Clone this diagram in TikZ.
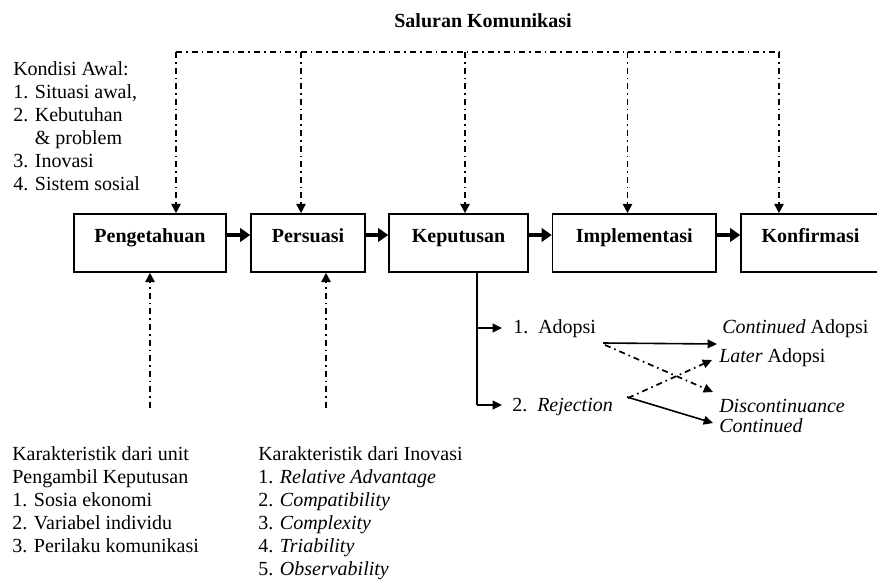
\documentclass[tikz,border=0pt]{standalone}
\usepackage{fontspec}
\setmainfont{Liberation Serif}
\usetikzlibrary{arrows.meta}
\newcommand{\bodysize}{\fontsize{15pt}{17.25pt}\selectfont}

\begin{document}
\begin{tikzpicture}[x=0.75pt,y=-0.75pt,font=\bodysize,
                box/.style={draw,line width=1.2pt,inner sep=0pt,minimum height=43.5pt,
                    text height=10pt,text depth=10pt,font=\bodysize\bfseries},
                flow/.style={line width=2.8pt,-{Triangle[length=7.5pt,width=10pt]}},
                chan/.style={line width=1.3pt,dash pattern=on 4.5pt off 3pt on 1.2pt off 3pt},
                tip/.style={-{Triangle[length=7pt,width=7pt]}},
                res/.style={line width=1.2pt,-{Triangle[length=7pt,width=6.5pt]}},
                lbl/.style={inner sep=0pt,anchor=base west,align=left}]
                \useasboundingbox (0,0) rectangle (877,584);

                \node[anchor=base,inner sep=0pt,font=\bodysize\bfseries] (title) at (483,28) {Saluran Komunikasi};

                \node[box,minimum width=114pt] (peng) at (150,243) {Pengetahuan};
                \node[box,minimum width=85.5pt] (pers) at (308,243) {Persuasi};
                \node[box,minimum width=104.25pt] (kep) at (458.5,243) {Keputusan};
                \node[box,minimum width=122.6pt] (impl) at (634.25,243) {Implementasi};
                \node[box,minimum width=104.25pt] (konf) at (810.5,243) {Konfirmasi};

                \draw[flow] ([shift={(0,-8)}]peng.east) -- ([shift={(0,-8)}]pers.west);
                \draw[flow] ([shift={(0,-8)}]pers.east) -- ([shift={(0,-8)}]kep.west);
                \draw[flow] ([shift={(0,-8)}]kep.east) -- ([shift={(0,-8)}]impl.west);
                \draw[flow] ([shift={(0,-8)}]impl.east) -- ([shift={(0,-8)}]konf.west);

                \coordinate (c1) at (176,52);
                \coordinate (c2) at (301,52);
                \coordinate (c3) at (465,52);
                \coordinate (c4) at (627.5,52);
                \coordinate (c5) at (779,52);
                \draw[chan] (c1) -- (c5);
                \draw[chan,tip] (c1) -- (c1 |- peng.north);
                \draw[chan,tip] (c2) -- (c2 |- pers.north);
                \draw[chan,tip] (c3) -- (c3 |- kep.north);
                \draw[chan,tip] (c4) -- (c4 |- impl.north);
                \draw[chan,tip] (c5) -- (c5 |- konf.north);

                \node[lbl] (awal) at (13,191) {Kondisi Awal:\\
                    1. Situasi awal,\\
                    2. Kebutuhan\\
                    \phantom{2. }\& problem\\
                    3. Inovasi\\
                    4. Sistem sosial};

                \coordinate (u1) at (150,408);
                \coordinate (u2) at (326,408);
                \draw[chan,tip] (u1) -- (u1 |- peng.south);
                \draw[chan,tip] (u2) -- (u2 |- pers.south);

                \node[lbl] (unit) at (12,552) {Karakteristik dari unit\\
                    Pengambil Keputusan\\
                    1. Sosia ekonomi\\
                    2. Variabel individu\\
                    3. Perilaku komunikasi};
                \node[lbl] (inov) at (258,575) {Karakteristik dari Inovasi\\
                    1. \textit{Relative Advantage}\\
                    2. \textit{Compatibility}\\
                    3. \textit{Complexity}\\
                    4. \textit{Triability}\\
                    5. \textit{Observability}};

                \coordinate (br1) at (477,328);
                \coordinate (br2) at (477,405);
                \node[lbl] (adopsi) at (513,333) {1.\ \ Adopsi};
                \node[lbl] (reject) at (512,411) {2.\ \ \textit{Rejection}};
                \node[lbl] (lanjut) at (722,333) {\textit{Continued} Adopsi};
                \node[lbl] (later) at (719,362) {\textit{Later} Adopsi};
                \node[lbl] (henti) at (719,412) {\textit{Discontinuance}};
                \node[lbl] (tetap) at (719,432) {\textit{Continued}};

                \draw[line width=1.2pt] (kep.south -| br1) -- (br2);
                \draw[res] (br1) -- ([shift={(-11,-5)}]adopsi.base west);
                \draw[res] (br2) -- ([shift={(-10,-6)}]reject.base west);
                \draw[res] ([shift={(90,10)}]adopsi.base west) -- ([shift={(-5,11)}]lanjut.base west);
                \draw[res,chan] ([shift={(92,12)}]adopsi.base west) -- ([shift={(-6,-20)}]henti.base west);
                \draw[res,chan] ([shift={(116,-13)}]reject.base west) -- ([shift={(-7,-2)}]later.base west);
                \draw[res] ([shift={(115,-14)}]reject.base west) -- ([shift={(-6,-9)}]tetap.base west);
            \end{tikzpicture}
\end{document}
